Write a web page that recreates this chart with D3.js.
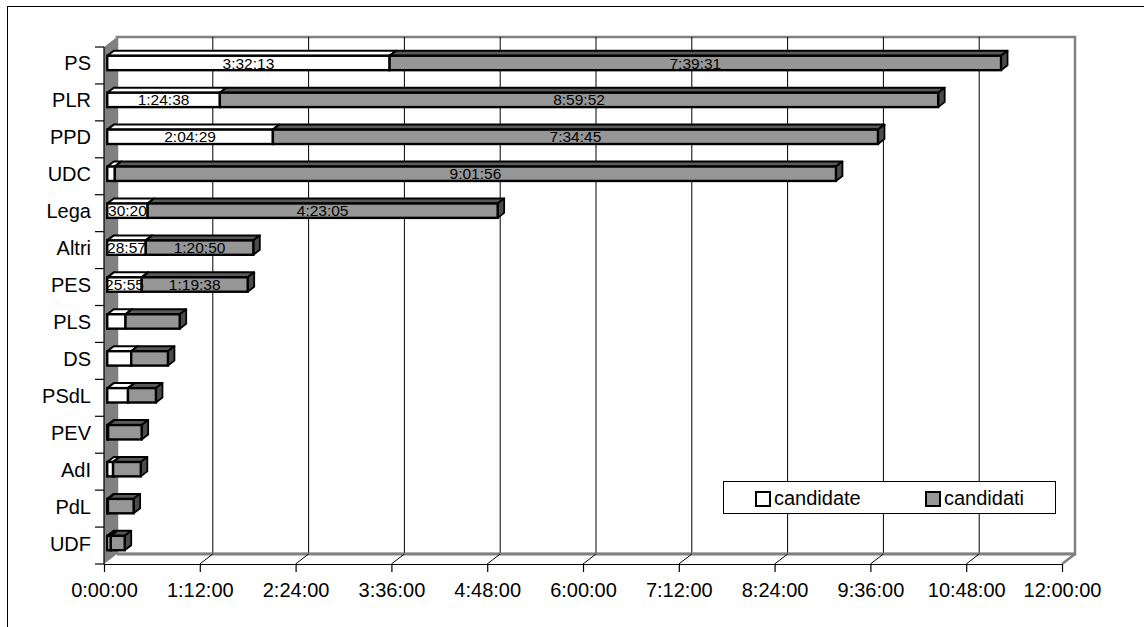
<!DOCTYPE html>
<html><head><meta charset="utf-8">
<script src="https://cdn.jsdelivr.net/npm/d3@7"></script>
<style>
html,body{margin:0;padding:0;background:#fff;}
svg{display:block;font-family:"Liberation Sans",Arial,sans-serif;}
</style></head>
<body>
<svg id="chart" width="1144" height="627"></svg>
<script>
// ---- data (seconds) ----
const categories = ["PS","PLR","PPD","UDC","Lega","Altri","PES","PLS","DS","PSdL","PEV","AdI","PdL","UDF"];
const candidate = [12733, 5078, 7469, 343, 1820, 1737, 1555, 824, 1080, 936, 40, 263, 30, 158];
const candidati = [27571, 32392, 27285, 32516, 15785, 4850, 4778, 2444, 1656, 1260, 1512, 1250, 1160, 630];
const candidateLabels = ["3:32:13","1:24:38","2:04:29","","30:20","28:57","25:55","","","","","","",""];
const candidatiLabels = ["7:39:31","8:59:52","7:34:45","9:01:56","4:23:05","1:20:50","1:19:38","","","","","","",""];
const tickValues = [0, 4320, 8640, 12960, 17280, 21600, 25920, 30240, 34560, 38880, 43200];
const tickLabels = ["0:00:00","1:12:00","2:24:00","3:36:00","4:48:00","6:00:00","7:12:00","8:24:00","9:36:00","10:48:00","12:00:00"];
const seriesNames = ["candidate","candidati"];

// ---- layout ----
const svg = d3.select("#chart");
const X0 = 104, X1 = 1062, Y0 = 47, Y1 = 564;
const DX = 13, DY = 10;            // wall depth
const BF = 0.25, BD = 0.5;         // bar front offset / depth as fraction of wall depth
const fills = ["#ffffff", "#969696"];
const tops = ["#ffffff", "#5a5a5a"];
const sideFill = "#4b4b4b";

const x = d3.scaleLinear().domain([0, 43200]).range([X0, X1]);
const y = d3.scaleBand().domain(categories).range([Y0, Y1]).padding(0);

// outer border
svg.append("rect").attr("x", 7.5).attr("y", 6.5).attr("width", 1200).attr("height", 700)
  .attr("fill", "#fff").attr("stroke", "#000").attr("stroke-width", 1);

// back wall
svg.append("rect").attr("x", X0 + DX).attr("y", Y0 - DY).attr("width", X1 - X0).attr("height", Y1 - Y0)
  .attr("fill", "#fff").attr("stroke", "#808080").attr("stroke-width", 2.5);

// gridlines on back wall
svg.append("g").selectAll("line").data(tickValues.slice(1, -1)).join("line")
  .attr("x1", d => x(d) + DX).attr("x2", d => x(d) + DX)
  .attr("y1", Y0 - DY).attr("y2", Y1 - DY)
  .attr("stroke", "#000").attr("stroke-width", 1);

// floor
svg.append("path")
  .attr("d", `M${X0},${Y1} L${X1},${Y1} L${X1 + DX},${Y1 - DY} L${X0 + DX},${Y1 - DY} Z`)
  .attr("fill", "#fff");
svg.append("line").attr("x1", X0 + DX).attr("x2", X1 + DX + 1).attr("y1", Y1 - DY).attr("y2", Y1 - DY)
  .attr("stroke", "#808080").attr("stroke-width", 3);
svg.append("line").attr("x1", X1).attr("y1", Y1).attr("x2", X1 + DX).attr("y2", Y1 - DY)
  .attr("stroke", "#808080").attr("stroke-width", 2.5);
svg.append("g").selectAll("line").data(tickValues.slice(1, -1)).join("line")
  .attr("x1", d => x(d)).attr("y1", Y1).attr("x2", d => x(d) + DX).attr("y2", Y1 - DY)
  .attr("stroke", "#000").attr("stroke-width", 1);

// side wall
svg.append("path")
  .attr("d", `M${X0},${Y0} L${X0 + DX},${Y0 - DY} L${X0 + DX},${Y1 - DY} L${X0},${Y1} Z`)
  .attr("fill", "#808080");

// category axis
svg.append("line").attr("x1", X0).attr("x2", X0).attr("y1", Y0).attr("y2", Y1)
  .attr("stroke", "#000").attr("stroke-width", 1.2);
const catTicks = categories.map(c => y(c)).concat([Y1]);
svg.append("g").selectAll("line").data(catTicks).join("line")
  .attr("x1", X0 - 9).attr("x2", X0).attr("y1", d => d).attr("y2", d => d)
  .attr("stroke", "#000").attr("stroke-width", 1.2);
svg.append("g").selectAll("text").data(categories).join("text")
  .attr("x", 91).attr("y", d => y(d) + y.bandwidth() / 2 - 2 + 7)
  .attr("text-anchor", "end").attr("font-size", 20).attr("fill", "#000")
  .text(d => d);

// value axis
const xAxis = d3.axisBottom(x).tickValues(tickValues)
  .tickFormat((d, i) => tickLabels[i]).tickSize(8).tickSizeOuter(0);
const gx = svg.append("g").attr("transform", `translate(0,${Y1})`).call(xAxis);
gx.select(".domain").attr("stroke", "#000").attr("stroke-width", 1.2);
gx.selectAll(".tick line").attr("stroke", "#000").attr("stroke-width", 1.2);
gx.selectAll(".tick text").attr("font-size", 20).attr("font-family", "Liberation Sans, Arial, sans-serif")
  .attr("fill", "#000").attr("dy", 0).attr("y", 33);

// bars
const bh = y.bandwidth() * 0.39;
const fdx = DX * BF, fdy = DY * BF;    // front face offset
const ddx = DX * BD, ddy = DY * BD;    // bar depth
const barG = svg.append("g");
const labelData = [];
categories.forEach((c, i) => {
  const yFront = y(c) + (y.bandwidth() - bh) / 2 - fdy;
  const segs = [[0, candidate[i]], [candidate[i], candidate[i] + candidati[i]]];
  const labs = [candidateLabels[i], candidatiLabels[i]];
  segs.forEach((s, k) => {
    const xa = x(s[0]) + fdx, xb = x(s[1]) + fdx;
    const g = barG.append("g");
    // top face
    g.append("path")
      .attr("d", `M${xa},${yFront} L${xb},${yFront} L${xb + ddx},${yFront - ddy} L${xa + ddx},${yFront - ddy} Z`)
      .attr("fill", tops[k]).attr("stroke", "#000").attr("stroke-width", 2).attr("stroke-linejoin", "round");
    // side face
    g.append("path")
      .attr("d", `M${xb},${yFront} L${xb + ddx},${yFront - ddy} L${xb + ddx},${yFront + bh - ddy} L${xb},${yFront + bh} Z`)
      .attr("fill", sideFill).attr("stroke", "#000").attr("stroke-width", 1.8).attr("stroke-linejoin", "round");
    // front face
    g.append("rect").attr("x", xa).attr("y", yFront).attr("width", Math.max(0, xb - xa)).attr("height", bh)
      .attr("fill", fills[k]).attr("stroke", "#000").attr("stroke-width", 2.4);
    if (labs[k]) labelData.push({x: (xa + xb) / 2, y: yFront + bh / 2, t: labs[k]});
  });
});
svg.append("g").selectAll("text").data(labelData).join("text")
  .attr("x", d => d.x).attr("y", d => d.y + 5.6)
  .attr("text-anchor", "middle").attr("font-size", 15.5).attr("fill", "#000")
  .text(d => d.t);

// legend
const lg = svg.append("g");
lg.append("rect").attr("x", 723.5).attr("y", 481.5).attr("width", 332).attr("height", 32)
  .attr("fill", "#fff").attr("stroke", "#000").attr("stroke-width", 1);
const legX = [755, 925];
seriesNames.forEach((n, k) => {
  lg.append("rect").attr("x", legX[k] + 1).attr("y", 492).attr("width", 14).attr("height", 14)
    .attr("fill", fills[k]).attr("stroke", "#000").attr("stroke-width", 2);
  lg.append("text").attr("x", legX[k] + 19).attr("y", 505).attr("font-size", 20).attr("fill", "#000").text(n);
});
</script>
</body></html>
